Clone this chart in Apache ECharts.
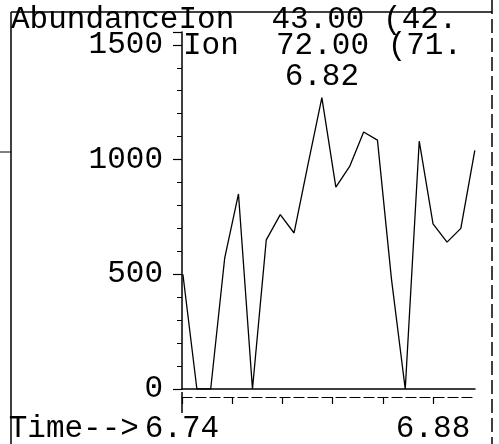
<!DOCTYPE html>
<html>
<head>
<meta charset="utf-8">
<script src="https://cdn.jsdelivr.net/npm/echarts@6/dist/echarts.min.js"></script>
<style>
html,body{margin:0;padding:0;background:#fff;}
#c{width:499px;height:444px;}
</style>
</head>
<body>
<div id="c"></div>
<script>
// ---- data ----
var times = [6.7405, 6.7483, 6.7560, 6.7638, 6.7715, 6.7793, 6.7870, 6.7948, 6.8025, 6.8103, 6.8180,
             6.8258, 6.8335, 6.8413, 6.8490, 6.8568, 6.8645, 6.8723, 6.8800, 6.8878, 6.8955, 6.9033];
var abundance = [500, 0, 0, 570, 850, 0, 650, 760, 680, 980, 1270,
                 880, 970, 1120, 1085, 480, 0, 1080, 720, 640, 700, 1040];
var yTicks = [0, 500, 1000, 1500];
var xTickValues = [6.74, 6.768, 6.796, 6.824, 6.852, 6.88];
var xLabelValues = [6.74, 6.88];
var headerLine1 = 'AbundanceIon  43.00 (42.';
var headerLine2 = 'Ion  72.00 (71.';
var xName = 'Time-->';

var FONT = 'Liberation Mono';
var FS = 31;
var peakIdx = abundance.indexOf(Math.max.apply(null, abundance));

var chart = echarts.init(document.getElementById('c'), null, {renderer: 'canvas'});
chart.setOption({
  backgroundColor: '#fff',
  animation: false,
  title: [
    {text: headerLine1, left: 11, top: 4, padding: 0,
     textStyle: {fontFamily: FONT, fontSize: FS, fontWeight: 'normal', color: '#000'}},
    {text: headerLine2, left: 183, top: 30, padding: 0,
     textStyle: {fontFamily: FONT, fontSize: FS, fontWeight: 'normal', color: '#000'}}
  ],
  grid: {left: 182, top: 32, right: 24, bottom: 52, containLabel: false},
  xAxis: [
    {type: 'value', min: 6.74, max: 6.9034, position: 'bottom',
     axisLine: {show: true, onZero: false, lineStyle: {color: '#000', width: 1.5}},
     axisTick: {show: false}, axisLabel: {show: false}, splitLine: {show: false}},
    {type: 'value', min: 6.74, max: 6.9034, position: 'bottom', offset: 8,
     name: xName, nameLocation: 'start', nameGap: 36,
     nameTextStyle: {fontFamily: FONT, fontSize: FS, color: '#000', verticalAlign: 'top', padding: [16, 0, 0, 0]},
     axisLine: {show: true, onZero: false, lineStyle: {color: '#000', width: 1.2, type: [10, 4]}},
     axisTick: {show: true, customValues: xTickValues, length: 7, lineStyle: {color: '#000', width: 1.2}},
     axisLabel: {show: true, customValues: xLabelValues, margin: 16, fontFamily: FONT, fontSize: FS, color: '#000',
                 formatter: function (v) { return v.toFixed(2); }},
     splitLine: {show: false}}
  ],
  yAxis: {
    type: 'value', min: 0, max: 1556, interval: 500,
    axisLine: {show: true, lineStyle: {color: '#000', width: 1.5}},
    axisTick: {show: true, length: 9, lineStyle: {color: '#000', width: 1.2}},
    minorTick: {show: true, splitNumber: 5, length: 5, lineStyle: {color: '#000', width: 1}},
    axisLabel: {margin: 19, fontFamily: FONT, fontSize: FS, color: '#000',
                customValues: yTicks,
                formatter: function (v) { return String(v); }},
    splitLine: {show: false}
  },
  series: [{
    type: 'line',
    xAxisIndex: 0,
    data: times.map(function (t, i) { return [t, abundance[i]]; }),
    showSymbol: true, symbol: 'circle', symbolSize: 0,
    lineStyle: {color: '#000', width: 1.3},
    itemStyle: {color: '#000'},
    label: {show: true, position: 'top', distance: 5, fontFamily: FONT, fontSize: FS, color: '#000',
            formatter: function (p) { return p.dataIndex === peakIdx ? p.value[0].toFixed(2) : ''; }}
  }],
  graphic: [
    {type: 'line', shape: {x1: 11, y1: 12, x2: 11, y2: 444}, style: {stroke: '#000', lineWidth: 1.5}},
    {type: 'line', shape: {x1: 11, y1: 12, x2: 492, y2: 12}, style: {stroke: '#000', lineWidth: 1.5}},
    {type: 'line', shape: {x1: 492, y1: 0, x2: 492, y2: 444}, style: {stroke: '#000', lineWidth: 1.5, lineDash: [14, 5]}},
    {type: 'line', shape: {x1: 0, y1: 152, x2: 11, y2: 152}, style: {stroke: '#000', lineWidth: 1}},
    {type: 'line', shape: {x1: 182, y1: 392, x2: 182, y2: 413}, style: {stroke: '#000', lineWidth: 1.5}}
  ]
});
</script>
</body>
</html>
